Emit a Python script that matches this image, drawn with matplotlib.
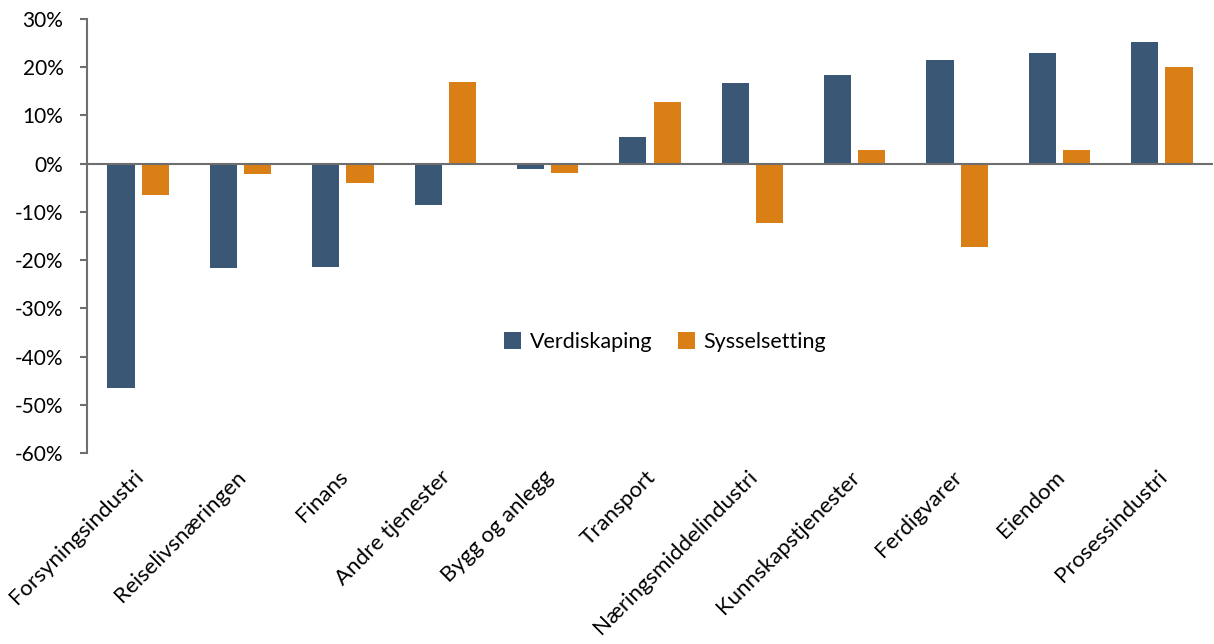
import matplotlib.pyplot as plt
import matplotlib.transforms as mtransforms
import numpy as np
from matplotlib.ticker import FuncFormatter

categories = [
    "Forsyningsindustri", "Reiselivsnæringen", "Finans", "Andre tjenester",
    "Bygg og anlegg", "Transport", "Næringsmiddelindustri", "Kunnskapstjenester",
    "Ferdigvarer", "Eiendom", "Prosessindustri",
]
verdiskaping = [-46.6, -21.6, -21.4, -8.5, -1.2, 5.6, 16.8, 18.3, 21.4, 23.0, 25.3]
sysselsetting = [-6.6, -2.2, -4.1, 17.0, -2.0, 12.7, -12.4, 2.9, -17.2, 2.9, 20.1]

BLUE = "#3a5775"
ORANGE = "#d97f16"
GREY = "#6e6e6e"

plt.rcParams["font.family"] = ["Lato", "DejaVu Sans"]

fig = plt.figure(figsize=(12.14, 6.44), dpi=100)
ax = fig.add_axes([87 / 1214, 1 - 453 / 644, (1213 - 87) / 1214, (453 - 19) / 644])

x = np.arange(len(categories))
w = 0.265
ax.bar(x - 0.035 - w / 2, verdiskaping, w, color=BLUE, label="Verdiskaping")
ax.bar(x + 0.035 + w / 2, sysselsetting, w, color=ORANGE, label="Sysselsetting")

ax.set_xlim(-0.5, len(categories) - 0.5)
ax.set_ylim(-60, 30)
ax.set_yticks(range(-60, 31, 10))
ax.yaxis.set_major_formatter(FuncFormatter(lambda v, p: f"{v:.0f}%"))
ax.axhline(0, color=GREY, lw=1.5, zorder=3)

for s in ["top", "right", "bottom"]:
    ax.spines[s].set_visible(False)
ax.spines["left"].set_color(GREY)
ax.spines["left"].set_linewidth(1.5)
ax.tick_params(axis="y", direction="out", length=5, width=1.5, color=GREY,
               labelsize=15, pad=12)

ax.set_xticks(x)
ax.set_xticklabels(categories, rotation=45, ha="right", rotation_mode="anchor", fontsize=16)
ax.tick_params(axis="x", length=0, pad=10)
offset = mtransforms.ScaledTranslation(-0.05, 0, fig.dpi_scale_trans)
for lbl in ax.get_xticklabels():
    lbl.set_transform(lbl.get_transform() + offset)

ax.legend(loc="center", bbox_to_anchor=((665 - 87) / 1126, 1 - (342 - 19) / 434),
          ncol=2, frameon=False, fontsize=15.5, handlelength=0.8, handleheight=0.8,
          columnspacing=1.2, handletextpad=0.4)

fig.savefig("out.png", dpi=100)
